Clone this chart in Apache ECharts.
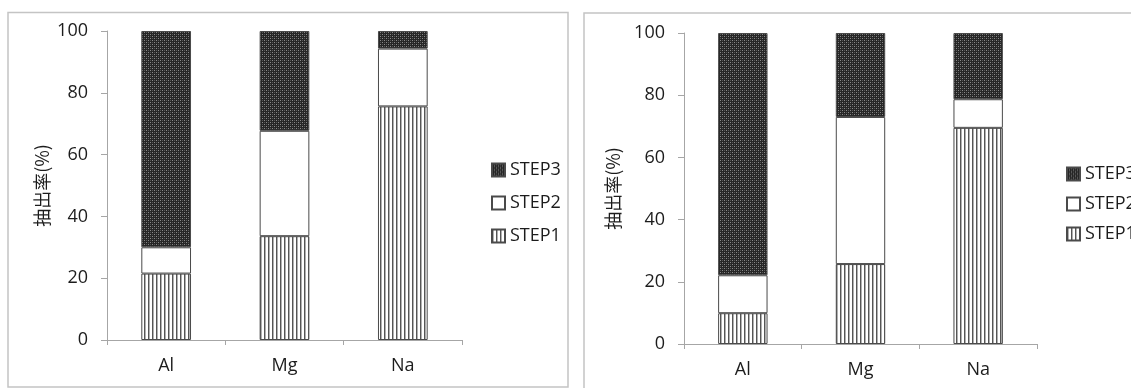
<!DOCTYPE html>
<html>
<head>
<meta charset="utf-8">
<script src="https://cdn.jsdelivr.net/npm/echarts@6/dist/echarts.min.js"></script>
<style>
html,body{margin:0;padding:0;background:#fff;}
#c{width:1131px;height:388px;}
</style>
</head>
<body>
<div id="c"></div>
<script>
// ---- data ----
var categories = ['Al', 'Mg', 'Na'];
var seriesNames = ['STEP1', 'STEP2', 'STEP3'];
var legendOrder = ['STEP3', 'STEP2', 'STEP1'];
var step1Left = [21.5, 33.6, 75.6];
var step2Left = [8.5, 34.1, 18.7];
var step3Left = [70.0, 32.3, 5.7];
var step1Right = [9.9, 25.7, 69.5];
var step2Right = [12.2, 47.3, 9.2];
var step3Right = [77.9, 27.0, 21.3];
var yAxisName = '抽出率(%)';

// ---- patterns ----
function stripePattern() {
  var c = document.createElement('canvas');
  c.width = 4; c.height = 4;
  var g = c.getContext('2d');
  g.fillStyle = '#ffffff'; g.fillRect(0, 0, 4, 4);
  g.fillStyle = '#555555'; g.fillRect(0, 0, 1, 4);
  g.fillStyle = '#b0b0b0'; g.fillRect(1, 0, 1, 4);
  return { image: c, repeat: 'repeat' };
}
function dotPattern() {
  var c = document.createElement('canvas');
  c.width = 4; c.height = 4;
  var g = c.getContext('2d');
  g.fillStyle = '#262626'; g.fillRect(0, 0, 4, 4);
  g.fillStyle = '#8a8a8a';
  g.fillRect(0, 0, 1, 1); g.fillRect(2, 2, 1, 1);
  g.fillStyle = '#555555';
  g.fillRect(2, 0, 1, 1); g.fillRect(0, 2, 1, 1);
  return { image: c, repeat: 'repeat' };
}
var fills = { STEP1: stripePattern(), STEP2: '#ffffff', STEP3: dotPattern() };

var FONT = 'Open Sans';
var TXT = '#1c1c1c';
var AXIS = '#a6a6a6';

function xAxis(gi) {
  return {
    type: 'category', gridIndex: gi, data: categories,
    axisLine: { show: true, lineStyle: { color: AXIS, width: 1 } },
    axisTick: { show: true, length: 5, lineStyle: { color: AXIS } },
    axisLabel: { color: TXT, fontSize: 18, fontFamily: FONT, margin: 17 }
  };
}
function yAxis(gi, gap) {
  return {
    type: 'value', gridIndex: gi, min: 0, max: 100, interval: 20,
    name: yAxisName, nameLocation: 'middle', nameGap: gap, nameRotate: 90,
    nameTextStyle: { color: TXT, fontSize: 18, fontFamily: 'Noto Sans CJK JP' },
    axisLine: { show: true, lineStyle: { color: AXIS, width: 1 } },
    axisTick: { show: true, length: 6, lineStyle: { color: AXIS } },
    axisLabel: { color: TXT, fontSize: 18, fontFamily: FONT, margin: 19 },
    splitLine: { show: false }
  };
}
function makeSeries(gi, arrays, stack) {
  return seriesNames.map(function (n, i) {
    return {
      name: n, type: 'bar', stack: stack, xAxisIndex: gi, yAxisIndex: gi,
      barWidth: '42%', data: arrays[i],
      itemStyle: { color: fills[n], borderColor: '#4a4a4a', borderWidth: 1 },
      emphasis: { disabled: true }
    };
  });
}
function legend(left, top, gap) {
  return {
    orient: 'vertical', left: left, top: top, itemGap: gap,
    data: legendOrder, icon: 'rect', itemWidth: 13, itemHeight: 13, itemTextGap: 3,
    textStyle: { color: TXT, fontSize: 18, fontFamily: FONT },
    selectedMode: false
  };
}

var chart = echarts.init(document.getElementById('c'), null, { renderer: 'canvas' });
chart.setOption({
  animation: false,
  backgroundColor: '#ffffff',
  graphic: [
    { type: 'rect', shape: { x: 8, y: 12.5, width: 560, height: 374.5 }, style: { fill: 'none', stroke: '#c4c4c4', lineWidth: 1.5 }, silent: true },
    { type: 'rect', shape: { x: 584, y: 13, width: 600, height: 400 }, style: { fill: 'none', stroke: '#c4c4c4', lineWidth: 1.5 }, silent: true }
  ],
  legend: [legend(486, 156, 15), legend(1061, 160, 12)],
  grid: [
    { left: 107, top: 31, width: 355, height: 309 },
    { left: 684, top: 33, width: 353, height: 311 }
  ],
  xAxis: [xAxis(0), xAxis(1)],
  yAxis: [yAxis(0, 56), yAxis(1, 62)],
  series: makeSeries(0, [step1Left, step2Left, step3Left], 'left')
    .concat(makeSeries(1, [step1Right, step2Right, step3Right], 'right'))
});
</script>
</body>
</html>
